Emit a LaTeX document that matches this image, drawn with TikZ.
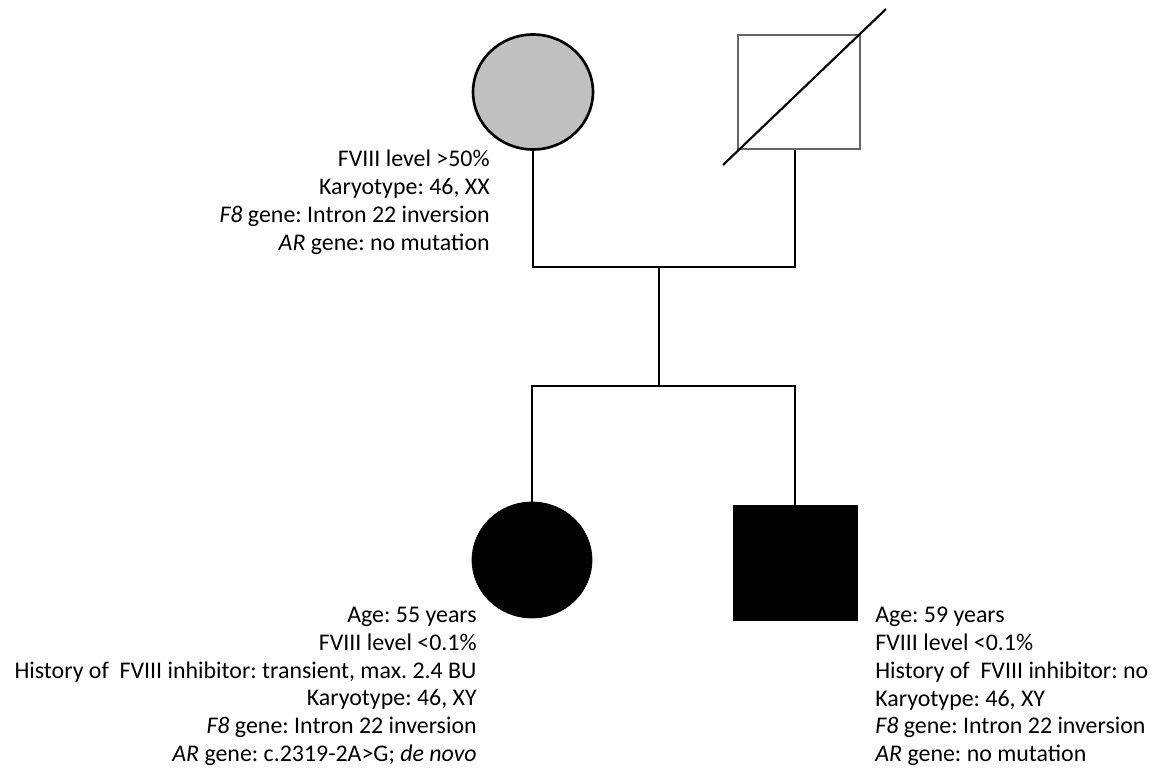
\documentclass[tikz,border=0pt]{standalone}
\usepackage{fontspec}
\setmainfont{Carlito}
\usetikzlibrary{shapes.geometric}
\definecolor{carrier}{RGB}{192,192,192}
\frenchspacing
\begin{document}
\begin{tikzpicture}[x=0.02cm, y=-0.02cm,
	line/.style={line width=0.85pt},
	info/.style={font=\fontsize{13.6}{15.8}\selectfont, inner sep=0pt}]
	\useasboundingbox (0,0) rectangle (1153,773);
	% parents
	\node[draw, ellipse, line width=1.5pt, fill=carrier, inner sep=0pt,
	minimum width=2.4cm, minimum height=2.3cm]
	(m) at (533,92) {};
	\node[draw=black!60, rectangle, line width=0.7pt, inner sep=0pt,
	minimum width=2.44cm, minimum height=2.28cm]
	(f) at (799,92) {};
	\draw[line width=1.2pt] ([shift={(-76,73)}]f.center) --
	([shift={(87,-83)}]f.center);
	% children
	\node[draw, ellipse, fill=black, inner sep=0pt,
	minimum width=2.4cm, minimum height=2.32cm]
	(d) at (532,560) {};
	\node[draw, rectangle, fill=black, inner sep=0pt,
	minimum width=2.48cm, minimum height=2.3cm]
	(s) at (795,562.5) {};
	% lines of descent
	\coordinate (mate) at (659,267);
	\coordinate (sib) at (659,386);
	\draw[line] (m.south) |- (mate) -| ([xshift=-0.08cm]f.south);
	\draw[line] (mate) -- (sib);
	\draw[line] (d.north) |- (sib) -| (s.north);
	% findings
	\node[info, align=right, anchor=north east] (mi) at (490,150)
	{FVIII level >50\%\\
		Karyotype: 46, XX\\
		\textit{F8} gene: Intron 22 inversion\\
		\textit{AR} gene: no mutation};
	\node[info, align=right, anchor=north east] (di) at (477,607)
	{Age: 55 years\\
		FVIII level <0.1\%\\
		History of\ \ FVIII inhibitor: transient, max. 2.4 BU\\
		Karyotype: 46, XY\\
		\textit{F8} gene: Intron 22 inversion\\
		\textit{AR} gene: c.2319-2A>G; \textit{de novo}};
	\node[info, align=left, anchor=north west] (si) at (875,607)
	{Age: 59 years\\
		FVIII level <0.1\%\\
		History of\ \ FVIII inhibitor: no\\
		Karyotype: 46, XY\\
		\textit{F8} gene: Intron 22 inversion\\
		\textit{AR} gene: no mutation};
\end{tikzpicture}
\end{document}
